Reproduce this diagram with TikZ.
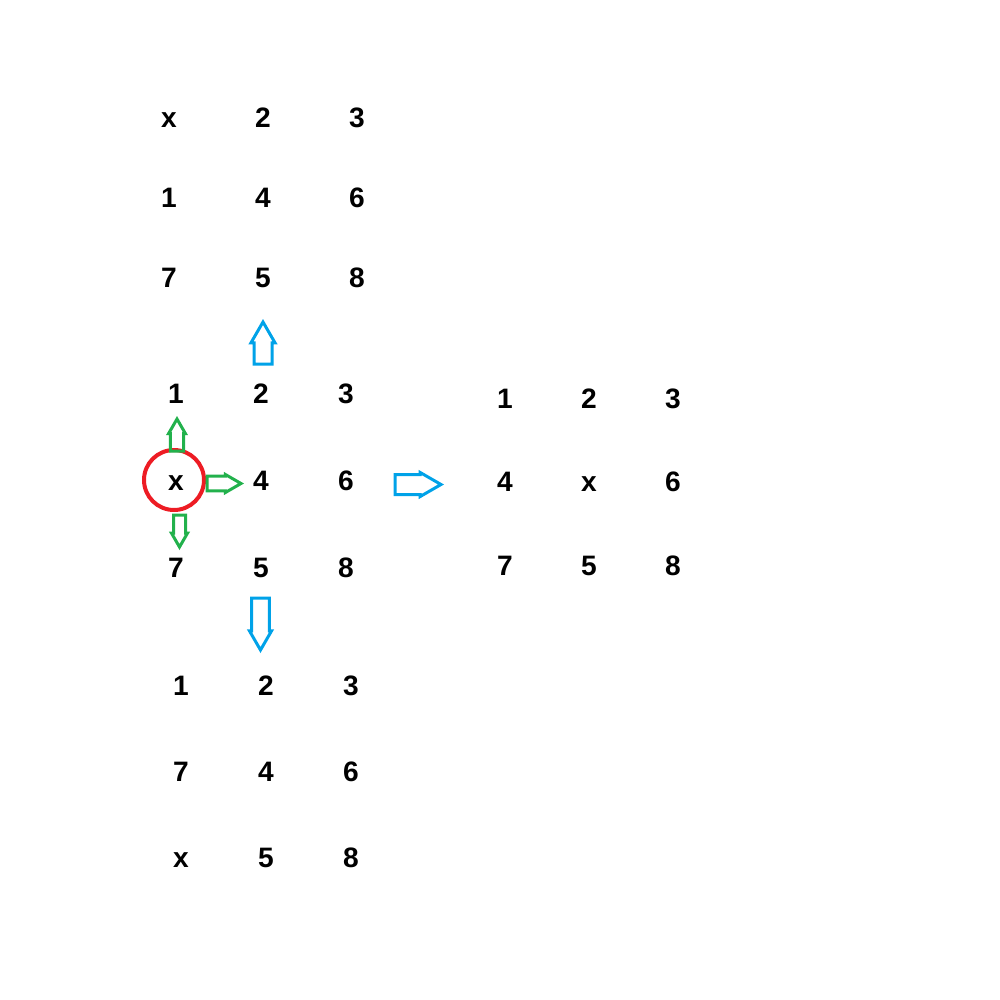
\documentclass[tikz,border=0pt]{standalone}
\usepackage{fontspec}
\setmainfont{Liberation Sans}
\usepackage{tikz}
\usetikzlibrary{matrix,shapes.arrows}
\definecolor{paintblue}{RGB}{0,162,232}
\definecolor{paintgreen}{RGB}{34,177,76}
\definecolor{paintred}{RGB}{237,28,36}

\begin{document}
\begin{tikzpicture}[x=0.2mm,y=-0.2mm,
grid/.style 2 args={matrix of nodes,nodes={minimum width=#1, minimum height=#2, text height=11.5pt, text depth=0pt, inner sep=0pt, font=\fontsize{16}{19}\selectfont\bfseries}, column sep=0pt, row sep=0pt},
blockarr/.style={single arrow, draw, fill=none, line width=0.6mm, single arrow head extend=0.3mm, single arrow tip angle=60, inner sep=0pt, anchor=tail},
moveblue/.style={blockarr, draw=paintblue},
movegreen/.style={blockarr, draw=paintgreen}]
\useasboundingbox (0,0) rectangle (1000,1000);
% start state and the three moves
\matrix[grid={18.8mm}{16mm}] (up) at (263,197.5) {
x & 2 & 3\\
1 & 4 & 6\\
7 & 5 & 8\\};
\matrix[grid={17mm}{17.4mm}] (start) at (261,480) {
1 & 2 & 3\\
x & 4 & 6\\
7 & 5 & 8\\};
\matrix[grid={16.8mm}{16.7mm}] (right) at (589,481.5) {
1 & 2 & 3\\
4 & x & 6\\
7 & 5 & 8\\};
\matrix[grid={17mm}{17.2mm}] (down) at (266,771) {
1 & 2 & 3\\
7 & 4 & 6\\
x & 5 & 8\\};
\node[circle, draw=paintred, line width=0.8mm, minimum size=12mm, inner sep=0pt] (blank) at ([xshift=-0.4mm]start-2-1) {};
% moves of the blank
\node[movegreen, rotate=90, minimum height=6.4mm, minimum width=3.4mm, inner sep=0.8mm] (gUp) at (177,452.5) {};
\node[movegreen, minimum height=6.8mm, minimum width=3.6mm, inner sep=1mm] (gRight) at (205.5,483.5) {};
\node[movegreen, rotate=-90, minimum height=6.4mm, minimum width=3.2mm, inner sep=0.6mm] (gDown) at (179.5,513.5) {};
\node[moveblue, rotate=90, minimum height=8.4mm, minimum width=4.8mm, inner sep=0.6mm] (bUp) at (263,365.5) {};
\node[moveblue, minimum height=9.2mm, minimum width=4.8mm, inner sep=1.2mm] (bRight) at (393.5,484.5) {};
\node[moveblue, rotate=-90, minimum height=10.4mm, minimum width=4.4mm, inner sep=1mm] (bDown) at (260.5,596.5) {};
\end{tikzpicture}
\end{document}
